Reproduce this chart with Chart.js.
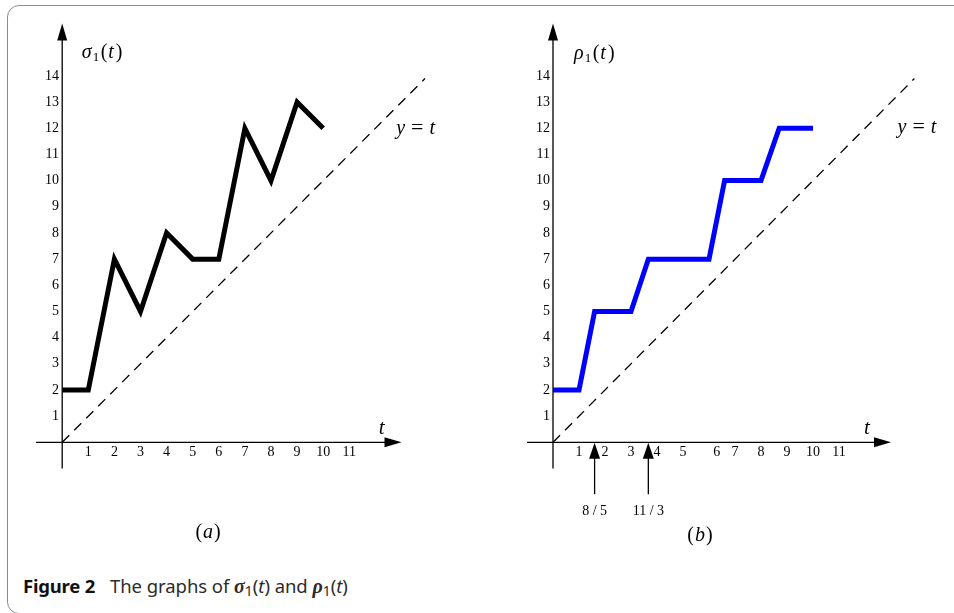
<!DOCTYPE html>
<html>
<head>
<meta charset="utf-8">
<script src="https://cdn.jsdelivr.net/npm/chart.js@4.4.1/dist/chart.umd.min.js"></script>
<style>
  html, body { margin: 0; padding: 0; background: #fff; width: 954px; height: 613px; overflow: hidden; }
  #frame { position: absolute; left: 7px; top: 5px; width: 975px; height: 607px; border: 1.3px solid #8c8c8c; border-radius: 12px; }
  .wrap { position: absolute; top: 0; width: 477px; height: 560px; }
  #caption { position: absolute; left: 23px; top: 573px; font-family: "Noto Sans", sans-serif; font-size: 18.5px; line-height: 25px; color: #2b2b2b; white-space: nowrap; letter-spacing: -0.05px; }
  #caption b { font-weight: 700; color: #111; margin-right: 10px; letter-spacing: -0.2px; }
  #caption .m { font-family: "Liberation Serif", serif; font-weight: 700; font-size: 20px; }
  #caption sub { font-size: 14px; vertical-align: -3px; line-height: 0; }
</style>
</head>
<body>
<div id="frame"></div>
<div class="wrap" style="left:0"><canvas id="chartA" width="477" height="560"></canvas></div>
<div class="wrap" style="left:477px"><canvas id="chartB" width="477" height="560"></canvas></div>
<div id="caption"><b>Figure 2</b> The graphs of <i class="m">σ</i><sub>1</sub>(<i>t</i>) and <i class="m">ρ</i><sub>1</sub>(<i>t</i>)</div>

<script>
// panel (a): sigma_1(t)
const sigmaT = [0, 1, 2, 3, 4, 5, 6, 7, 8, 9, 10];
const sigmaV = [2, 2, 7, 5, 8, 7, 7, 12, 10, 13, 12];

// panel (b): rho_1(t)
const rhoT = [0, 1, 8 / 5, 3, 11 / 3, 6, 6.6, 8, 8.7, 10];
const rhoV = [2, 2, 5, 5, 7, 7, 10, 10, 12, 12];

// dashed reference line y = t
const diagT = [0, 13.9];

// tick labels (panel b has its "6" set a bit off, as in the figure)
const xTicksA = [1, 2, 3, 4, 5, 6, 7, 8, 9, 10, 11];
const xTicksB = [1, 2, 3, 4, 5, 6.3, 7, 8, 9, 10, 11];
const xLabels = ['1', '2', '3', '4', '5', '6', '7', '8', '9', '10', '11'];
const yTicks = [1, 2, 3, 4, 5, 6, 7, 8, 9, 10, 11, 12, 13, 14];

// marked points on the t axis of panel (b)
const markT = [8 / 5, 11 / 3];
const markLabels = ['8 / 5', '11 / 3'];

const SERIF = '"Liberation Serif", "DejaVu Serif", serif';

function pts(xs, ys) {
  return xs.map((v, i) => ({ x: v, y: ys[i] }));
}

// draws pieces of text one after another: [text, font, dy, gapAfter]
function drawRun(ctx, x, y, parts, align) {
  let total = 0;
  parts.forEach(p => { ctx.font = p[1]; total += ctx.measureText(p[0]).width + (p[3] || 0); });
  let cx = align === 'center' ? x - total / 2 : x;
  ctx.textBaseline = 'alphabetic';
  ctx.textAlign = 'left';
  parts.forEach(p => {
    ctx.font = p[1];
    ctx.fillText(p[0], cx, y + (p[2] || 0));
    cx += ctx.measureText(p[0]).width + (p[3] || 0);
  });
}

function arrowHead(ctx, tipX, tipY, dir, len, half) {
  ctx.beginPath();
  ctx.moveTo(tipX, tipY);
  if (dir === 'up') {
    ctx.lineTo(tipX - half, tipY + len);
    ctx.lineTo(tipX + half, tipY + len);
  } else {
    ctx.lineTo(tipX - len, tipY - half);
    ctx.lineTo(tipX - len, tipY + half);
  }
  ctx.closePath();
  ctx.fill();
}

const axesPlugin = {
  id: 'axesArrows',
  beforeDatasetsDraw(chart) {
    const { ctx, scales: { x, y } } = chart;
    const x0 = x.getPixelForValue(0), y0 = y.getPixelForValue(0);
    const xl = x.getPixelForValue(-1), xr = x.getPixelForValue(13);
    const yb = y.getPixelForValue(-1), yt = y.getPixelForValue(16);
    ctx.save();
    ctx.strokeStyle = '#000';
    ctx.fillStyle = '#000';
    ctx.lineWidth = 1.3;
    ctx.beginPath();
    ctx.moveTo(xl, y0); ctx.lineTo(xr - 10, y0);
    ctx.moveTo(x0, yb); ctx.lineTo(x0, yt + 10);
    ctx.stroke();
    arrowHead(ctx, xr, y0, 'right', 17, 5);
    arrowHead(ctx, x0, yt, 'up', 17, 5);
    ctx.restore();
  },
  afterDraw(chart, args, opts) {
    const { ctx, scales: { x, y } } = chart;
    const px = v => x.getPixelForValue(v), py = v => y.getPixelForValue(v);
    ctx.save();
    ctx.fillStyle = '#000';
    // axis title, e.g. sigma_1(t)
    drawRun(ctx, px(opts.title[0]), py(opts.title[1]) + 6, [
      [opts.symbol, 'italic 20px ' + SERIF, 0, 1],
      ['1', '13px ' + SERIF, 3, 1.5],
      ['(', '20px ' + SERIF, 0, 1],
      ['t', 'italic 20px ' + SERIF, 0, 2],
      [')', '20px ' + SERIF]
    ]);
    // y = t label
    drawRun(ctx, px(opts.yt[0]), py(opts.yt[1]) + 6, [
      ['y', 'italic 20px ' + SERIF, 0, 6],
      ['=', '22px ' + SERIF, 0, 6],
      ['t', 'italic 20px ' + SERIF]
    ], 'center');
    // t axis label
    drawRun(ctx, px(opts.tl[0]), py(opts.tl[1]) + 7, [['t', 'italic 21px ' + SERIF]], 'center');
    // panel label
    drawRun(ctx, px(opts.panel[0]), py(opts.panel[1]) + 6, [
      ['(', '20px ' + SERIF, 0, 1],
      [opts.letter, 'italic 20px ' + SERIF, 0, 1],
      [')', '20px ' + SERIF]
    ], 'center');
    // marked t values with upward arrows
    (opts.marks || []).forEach((t, i) => {
      const mx = px(t), y0 = py(0);
      ctx.strokeStyle = '#000';
      ctx.lineWidth = 1.3;
      ctx.beginPath();
      ctx.moveTo(mx, py(-1.98));
      ctx.lineTo(mx, y0 + 10);
      ctx.stroke();
      arrowHead(ctx, mx, y0 + 0.5, 'up', 16, 5.5);
      ctx.font = '14px ' + SERIF;
      ctx.textAlign = 'center';
      ctx.textBaseline = 'middle';
      ctx.fillText(opts.markLabels[i], mx, py(-2.62));
    });
    ctx.restore();
  }
};

function makeChart(id, lineData, lineColor, xTicks, pad, notes) {
  return new Chart(document.getElementById(id), {
    type: 'scatter',
    data: {
      datasets: [
        {
          data: pts(diagT, diagT),
          showLine: true,
          borderColor: '#000',
          borderWidth: 1.3,
          borderDash: [10, 7],
          pointRadius: 0
        },
        {
          data: lineData,
          showLine: true,
          borderColor: lineColor,
          borderWidth: 5,
          borderJoinStyle: 'miter',
          borderCapStyle: 'butt',
          pointRadius: 0
        }
      ]
    },
    options: {
      responsive: false,
      animation: false,
      events: [],
      layout: { padding: pad },
      plugins: { legend: { display: false }, tooltip: { enabled: false }, axesArrows: notes },
      scales: {
        x: {
          type: 'linear',
          min: -1,
          max: 14,
          position: { y: 0 },
          grid: { display: false, drawTicks: false },
          border: { display: false },
          afterBuildTicks: s => { s.ticks = xTicks.map(v => ({ value: v })); },
          ticks: {
            padding: 2,
            maxRotation: 0,
            autoSkip: false,
            color: '#000',
            font: { family: SERIF, size: 14 },
            callback: (v, i) => xLabels[i]
          }
        },
        y: {
          type: 'linear',
          min: -1,
          max: 16,
          // labels sit just left of the t = 0 axis line
          position: { x: -0.12 },
          grid: { display: false, drawTicks: false },
          border: { display: false },
          afterBuildTicks: s => { s.ticks = yTicks.map(v => ({ value: v })); },
          ticks: {
            autoSkip: false,
            color: '#000',
            font: { family: SERIF, size: 14 },
            callback: v => String(v)
          }
        }
      }
    },
    plugins: [axesPlugin]
  });
}

makeChart('chartA', pts(sigmaT, sigmaV), '#000000', xTicksA,
  { left: 36.1, right: 49.4, top: 23.6, bottom: 91.5 },
  { symbol: 'σ', letter: 'a', title: [0.75, 14.93], yt: [13.54, 12.01], tl: [12.24, 0.6], panel: [5.59, -3.42] });

makeChart('chartB', pts(rhoT, rhoV), '#0000ff', xTicksB,
  { left: 50, right: 37, top: 23.6, bottom: 91.5 },
  { symbol: 'ρ', letter: 'b', title: [0.81, 14.89], yt: [14.0, 12.05], tl: [12.07, 0.58], panel: [5.65, -3.54],
    marks: markT, markLabels: markLabels });
</script>
</body>
</html>
